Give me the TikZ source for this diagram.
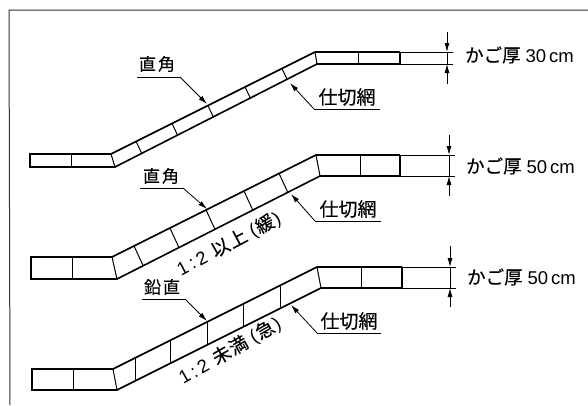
\documentclass[tikz,border=0pt]{standalone}
\usepackage{fontspec}
\setmainfont{Liberation Sans}
\newfontfamily\cjk[FakeBold=0.3]{Noto Sans CJK JP}
\usetikzlibrary{calc,arrows.meta}

\begin{document}
\begin{tikzpicture}[x=1pt,y=-1pt,
		band/.style={line width=1.6pt},
		thin band/.style={line width=1pt},
		leader/.style={line width=0.8pt,-{Latex[length=9pt,width=5pt]}},
		under/.style={line width=1pt},
		dim/.style={line width=0.8pt,-{Latex[length=9pt,width=5pt]}},
		part label/.style={font=\cjk\fontsize{17}{17}\selectfont,inner sep=0pt},
		net label/.style={font=\cjk\fontsize{19}{19}\selectfont,inner sep=0pt},
		size label/.style={font=\fontsize{18.5}{18.5}\selectfont,inner sep=0pt},
		slope label/.style={font=\fontsize{18.5}{18.5}\selectfont,inner sep=0pt}]
	\useasboundingbox (0,0) rectangle (588,405);
	\draw[line width=1pt,black!80] (588,10) -- (9,10) -- (10,405);

	% band 1
	\coordinate (a1) at (30,154);
	\coordinate (b1) at (30,167);
	\coordinate (c1) at (111,154);
	\coordinate (d1) at (115,167);
	\coordinate (e1) at (315,52);
	\coordinate (f1) at (317,64);
	\coordinate (g1) at (400,52);
	\coordinate (h1) at (400,64);
	\coordinate (i1) at (453,52);
	\coordinate (j1) at (453,64);
	\draw[band] (g1) -- (e1) -- (c1) -- (a1) -- (b1) -- (d1) -- (f1) -- (h1) -- (g1);
	\draw[thin band] (c1) -- (d1) (e1) -- (f1);
	\draw[thin band] (g1) -- (i1) (h1) -- (j1);
	\draw[thin band] (71,154) -- (71,167) (358,52) -- (358,64);
	\foreach \t in {0.123,0.299,0.475,0.657,0.838}
		\draw[thin band] ($(c1)!\t!(e1)$) -- ++(5.5,11.5);

	% band 2
	\coordinate (a2) at (31,257);
	\coordinate (b2) at (31,279);
	\coordinate (c2) at (112,257);
	\coordinate (d2) at (117,279);
	\coordinate (e2) at (316,155);
	\coordinate (f2) at (320,176);
	\coordinate (g2) at (400,155);
	\coordinate (h2) at (400,176);
	\coordinate (i2) at (455,155);
	\coordinate (j2) at (455,176);
	\draw[band] (g2) -- (e2) -- (c2) -- (a2) -- (b2) -- (d2) -- (f2) -- (h2) -- (g2);
	\draw[thin band] (c2) -- (d2) (e2) -- (f2);
	\draw[thin band] (g2) -- (i2) (h2) -- (j2);
	\draw[thin band] (72,257) -- (72,279) (360,155) -- (360,176);
	\foreach \t in {0.108,0.284,0.461,0.647,0.819}
		\draw[thin band] ($(c2)!\t!(e2)$) -- ++(9,19.5);

	% band 3
	\coordinate (a3) at (32,369);
	\coordinate (b3) at (32,390);
	\coordinate (c3) at (113,369);
	\coordinate (d3) at (117,390);
	\coordinate (e3) at (317,267);
	\coordinate (f3) at (321,288);
	\coordinate (g3) at (402,267);
	\coordinate (h3) at (402,288);
	\coordinate (i3) at (456,267);
	\coordinate (j3) at (456,288);
	\draw[band] (g3) -- (e3) -- (c3) -- (a3) -- (b3) -- (d3) -- (f3) -- (h3) -- (g3);
	\draw[thin band] (c3) -- (d3) (e3) -- (f3);
	\draw[thin band] (g3) -- (i3) (h3) -- (j3);
	\draw[thin band] (73,369) -- (73,390) (361,267) -- (361,288);
	\foreach \t in {0.108,0.284,0.461,0.642,0.819}
		\draw[thin band] ($(c3)!\t!(e3)$) -- ++(0,22);

	% thickness marks
	\coordinate (t1) at (447,32);
	\coordinate (u1) at (447,52);
	\coordinate (v1) at (447,84);
	\coordinate (w1) at (447,64);
	\draw[dim] (t1) -- (u1);
	\draw[dim] (v1) -- (w1);
	\draw[line width=0.5pt] (u1) -- (w1);
	\coordinate (t2) at (449,135);
	\coordinate (u2) at (449,155);
	\coordinate (v2) at (449,196);
	\coordinate (w2) at (449,176);
	\draw[dim] (t2) -- (u2);
	\draw[dim] (v2) -- (w2);
	\draw[line width=0.5pt] (u2) -- (w2);
	\coordinate (t3) at (450,246);
	\coordinate (u3) at (450,267);
	\coordinate (v3) at (450,307);
	\coordinate (w3) at (450,288);
	\draw[dim] (t3) -- (u3);
	\draw[dim] (v3) -- (w3);
	\draw[line width=0.5pt] (u3) -- (w3);

	\node[size label] (size1) at (519.5,55) {{\cjk かご厚}\kern5pt 30\kern3pt cm};
	\node[size label] (size2) at (520.5,166) {{\cjk かご厚}\kern5pt 50\kern3pt cm};
	\node[size label] (size3) at (521.5,277) {{\cjk かご厚}\kern5pt 50\kern3pt cm};

	% leaders
	\node[part label] (right1) at (157,64) {直\kern2pt 角};
	\node[part label] (right2) at (161,176) {直\kern2pt 角};
	\node[part label] (plumb3) at (162,287) {鉛\kern2pt 直};
	\coordinate (p1) at (137,77);
	\coordinate (q1) at (180,77);
	\coordinate (r1) at (207,104);
	\coordinate (p2) at (140,188);
	\coordinate (q2) at (183,188);
	\coordinate (r2) at (207,209);
	\coordinate (p3) at (142,299);
	\coordinate (q3) at (185,299);
	\coordinate (r3) at (207,321);
	\draw[under] (p1) -- (q1);
	\draw[leader] (q1) -- (r1);
	\draw[under] (p2) -- (q2);
	\draw[leader] (q2) -- (r2);
	\draw[under] (p3) -- (q3);
	\draw[leader] (q3) -- (r3);

	\node[net label] (net1) at (347,97) {仕切網};
	\node[net label] (net2) at (348,209) {仕切網};
	\node[net label] (net3) at (349,321) {仕切網};
	\coordinate (k1) at (380,109);
	\coordinate (l1) at (314,109);
	\coordinate (m1) at (290,83);
	\coordinate (k2) at (381,221);
	\coordinate (l2) at (315,221);
	\coordinate (m2) at (291,194);
	\coordinate (k3) at (381,333);
	\coordinate (l3) at (317,333);
	\coordinate (m3) at (291,305);
	\draw[under] (k1) -- (l1);
	\draw[leader] (l1) -- (m1);
	\draw[under] (k2) -- (l2);
	\draw[leader] (l2) -- (m2);
	\draw[under] (k3) -- (l3);
	\draw[leader] (l3) -- (m3);

	% slopes
	\node[slope label,rotate=28] (slope2) at (229,244) {1\kern3pt:\kern3pt 2\kern7pt {\cjk 以\kern1pt 上}\kern5pt(\kern1pt{\cjk 緩}\kern1pt)};
	\node[slope label,rotate=30] (slope3) at (230,351) {1\kern3pt:\kern3pt 2\kern7pt {\cjk 未\kern1pt 満}\kern5pt(\kern1pt{\cjk 急}\kern1pt)};
\end{tikzpicture}
\end{document}
